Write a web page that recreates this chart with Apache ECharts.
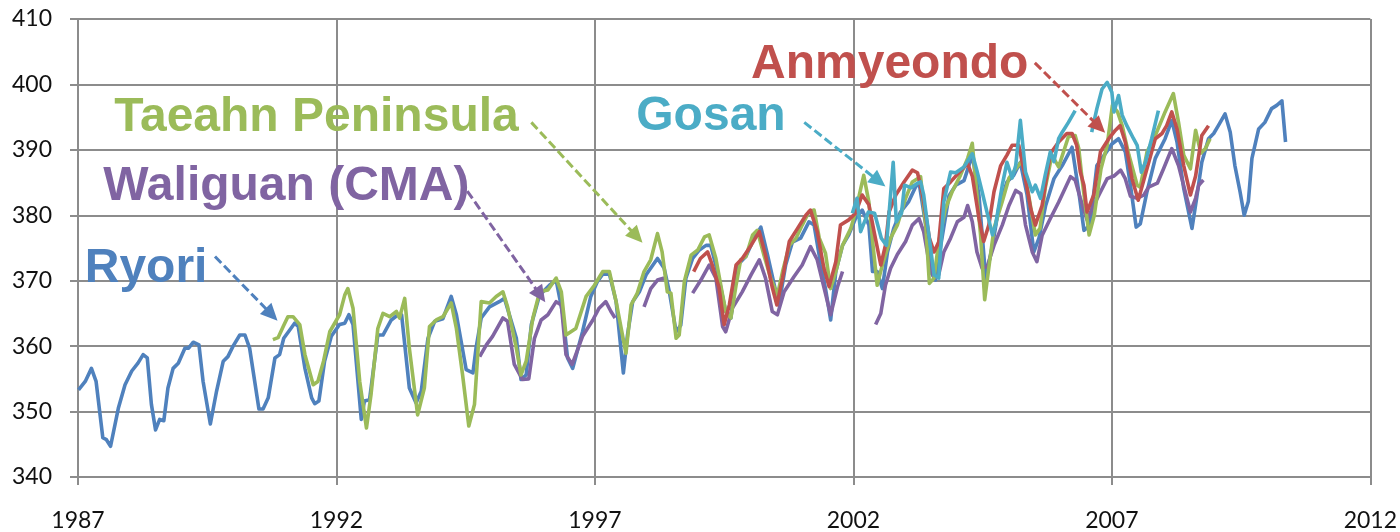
<!DOCTYPE html>
<html>
<head>
<meta charset="utf-8">
<script src="https://cdn.jsdelivr.net/npm/echarts@6/dist/echarts.min.js"></script>
<style>
html,body{margin:0;padding:0;background:#fff;}
#chart{width:1400px;height:532px;}
</style>
</head>
<body>
<div id="chart"></div>
<script>
// ---- data: [year, ppm] ----
const xTicks = [1987, 1992, 1997, 2002, 2007, 2012];
const yTicks = [340, 350, 360, 370, 380, 390, 400, 410];

const ryori = [[1987.01,353.3],[1987.14,354.6],[1987.26,356.6],[1987.35,354.6],[1987.48,346.0],[1987.55,345.7],[1987.63,344.7],[1987.78,350.5],[1987.91,354.1],[1988.04,356.2],[1988.16,357.4],[1988.26,358.7],[1988.34,358.2],[1988.42,351.1],[1988.50,347.2],[1988.58,348.8],[1988.66,348.6],[1988.74,353.6],[1988.84,356.6],[1988.94,357.4],[1989.07,359.7],[1989.14,359.7],[1989.23,360.6],[1989.34,360.2],[1989.42,354.6],[1989.56,348.1],[1989.68,353.1],[1989.81,357.7],[1989.90,358.4],[1990.00,360.0],[1990.13,361.7],[1990.23,361.7],[1990.32,359.7],[1990.50,350.4],[1990.58,350.4],[1990.68,352.1],[1990.81,358.2],[1990.90,358.7],[1990.98,361.2],[1991.10,362.5],[1991.19,363.5],[1991.26,363.0],[1991.39,356.6],[1991.52,352.1],[1991.58,351.2],[1991.66,351.6],[1991.77,357.7],[1991.90,361.5],[1992.06,363.3],[1992.16,363.5],[1992.24,364.8],[1992.32,363.3],[1992.48,348.8],[1992.54,351.6],[1992.64,351.8],[1992.80,361.7],[1992.90,361.7],[1993.06,364.0],[1993.19,364.8],[1993.26,364.8],[1993.41,353.6],[1993.54,351.3],[1993.64,353.1],[1993.77,361.2],[1993.90,363.8],[1994.06,364.2],[1994.22,367.6],[1994.32,364.8],[1994.51,356.4],[1994.64,355.9],[1994.70,359.7],[1994.80,364.3],[1994.96,366.0],[1995.15,366.8],[1995.25,367.3],[1995.48,361.2],[1995.57,354.9],[1995.67,355.6],[1995.77,363.3],[1995.93,367.8],[1996.12,369.3],[1996.25,370.1],[1996.38,364.8],[1996.47,358.2],[1996.57,356.6],[1996.76,362.2],[1996.92,367.6],[1997.05,369.9],[1997.15,371.0],[1997.28,371.0],[1997.41,366.8],[1997.55,355.9],[1997.63,361.7],[1997.73,366.8],[1997.86,368.3],[1997.99,370.9],[1998.21,373.4],[1998.34,371.9],[1998.44,368.3],[1998.57,362.2],[1998.66,363.2],[1998.76,370.4],[1998.89,373.4],[1999.02,374.7],[1999.15,375.4],[1999.24,375.4],[1999.37,371.4],[1999.53,365.3],[1999.63,364.3],[1999.76,372.4],[1999.92,373.7],[2000.05,376.0],[2000.21,378.2],[2000.34,373.9],[2000.50,368.3],[2000.56,366.3],[2000.69,372.4],[2000.82,375.9],[2000.98,376.5],[2001.14,379.0],[2001.24,378.5],[2001.37,372.4],[2001.46,368.8],[2001.56,364.0],[2001.66,371.4],[2001.79,375.4],[2001.91,377.0],[2002.04,379.5],[2002.17,380.8],[2002.30,378.5],[2002.37,371.4],[2002.46,371.4],[2002.56,368.8],[2002.66,374.4],[2002.78,378.0],[2002.91,380.5],[2003.07,382.1],[2003.20,384.3],[2003.27,385.0],[2003.40,378.5],[2003.49,371.4],[2003.59,370.1],[2003.69,375.4],[2003.85,383.0],[2003.98,384.6],[2004.14,385.3],[2004.30,389.2],[2004.43,383.0],[2004.56,370.4],[2004.69,375.4],[2004.81,381.0],[2004.97,385.1],[2005.10,386.1],[2005.23,388.1],[2005.36,383.1],[2005.49,374.4],[2005.59,376.5],[2005.72,381.5],[2005.88,385.6],[2006.04,387.6],[2006.23,390.4],[2006.36,383.6],[2006.46,377.7],[2006.58,378.5],[2006.71,387.6],[2006.88,389.5],[2007.00,390.9],[2007.13,391.7],[2007.26,389.7],[2007.36,384.6],[2007.47,378.2],[2007.55,378.7],[2007.68,383.6],[2007.84,388.7],[2008.03,391.7],[2008.16,394.5],[2008.26,391.2],[2008.39,384.1],[2008.55,378.0],[2008.64,382.6],[2008.74,388.1],[2008.87,391.7],[2008.97,392.5],[2009.06,393.7],[2009.19,395.5],[2009.29,392.7],[2009.38,387.6],[2009.48,383.6],[2009.56,380.0],[2009.64,382.1],[2009.71,388.7],[2009.84,393.2],[2009.96,394.2],[2010.09,396.3],[2010.19,396.8],[2010.29,397.5],[2010.36,391.2]];

const waliguan = [[1994.77,358.4],[1994.90,360.2],[1995.02,361.5],[1995.22,364.3],[1995.31,363.8],[1995.44,357.2],[1995.60,354.9],[1995.72,355.0],[1995.83,361.2],[1995.96,364.0],[1996.09,364.8],[1996.25,366.8],[1996.35,366.3],[1996.44,358.7],[1996.56,357.2],[1996.76,361.5],[1996.96,364.0],[1997.08,365.8],[1997.21,366.8],[1997.31,365.3],[1997.39,364.3],[1997.40,null],[1997.95,366.0],[1998.08,368.8],[1998.21,370.1],[1998.34,370.4],[1998.35,null],[1998.89,368.1],[1999.05,370.1],[1999.21,372.4],[1999.34,370.4],[1999.47,363.0],[1999.53,362.2],[1999.66,365.8],[1999.85,368.3],[2000.02,370.9],[2000.18,373.2],[2000.30,370.4],[2000.43,365.3],[2000.53,364.8],[2000.66,368.3],[2000.85,370.6],[2001.01,372.4],[2001.17,375.2],[2001.30,373.2],[2001.43,369.0],[2001.56,364.8],[2001.69,369.0],[2001.79,371.4],[2001.80,null],[2002.43,363.3],[2002.53,365.0],[2002.62,369.3],[2002.72,371.9],[2002.85,374.0],[2003.01,376.0],[2003.14,378.5],[2003.27,379.5],[2003.36,377.5],[2003.46,373.0],[2003.56,370.4],[2003.65,370.9],[2003.75,374.4],[2003.88,376.5],[2004.01,379.0],[2004.14,379.7],[2004.21,381.5],[2004.30,379.0],[2004.39,374.4],[2004.49,371.9],[2004.59,372.2],[2004.72,375.4],[2004.88,378.5],[2005.01,381.5],[2005.14,383.8],[2005.24,383.3],[2005.33,378.5],[2005.46,374.4],[2005.55,372.9],[2005.65,376.9],[2005.81,379.5],[2005.97,382.0],[2006.20,385.9],[2006.29,385.4],[2006.39,382.6],[2006.52,379.3],[2006.65,381.5],[2006.75,383.1],[2006.91,385.6],[2007.04,386.0],[2007.17,386.9],[2007.26,385.6],[2007.36,382.9],[2007.49,382.6],[2007.62,383.1],[2007.71,384.3],[2007.88,384.9],[2008.00,387.1],[2008.16,390.2],[2008.29,387.6],[2008.42,383.6],[2008.52,380.5],[2008.62,382.6],[2008.68,384.6],[2008.77,385.4]];

const taeahn = [[1990.77,361.0],[1990.87,361.3],[1990.97,363.0],[1991.06,364.5],[1991.16,364.5],[1991.29,363.3],[1991.39,358.7],[1991.55,354.1],[1991.64,354.6],[1991.75,357.7],[1991.87,362.2],[1992.06,364.8],[1992.16,367.8],[1992.22,368.8],[1992.32,365.8],[1992.45,354.6],[1992.58,347.5],[1992.67,352.7],[1992.80,362.7],[1992.90,365.0],[1993.03,364.5],[1993.16,365.3],[1993.22,364.3],[1993.32,367.3],[1993.41,359.7],[1993.57,349.5],[1993.70,353.6],[1993.80,363.0],[1993.93,364.0],[1994.06,364.5],[1994.22,366.6],[1994.32,362.7],[1994.44,355.6],[1994.56,347.8],[1994.67,351.1],[1994.80,366.8],[1994.96,366.6],[1995.09,367.6],[1995.22,368.3],[1995.31,366.0],[1995.48,359.7],[1995.57,355.6],[1995.67,357.7],[1995.80,364.3],[1995.93,368.3],[1996.09,368.6],[1996.25,370.4],[1996.35,368.3],[1996.44,361.7],[1996.63,362.7],[1996.83,367.6],[1996.99,369.3],[1997.15,371.4],[1997.28,371.4],[1997.41,366.8],[1997.60,358.9],[1997.70,366.3],[1997.82,368.1],[1997.95,371.4],[1998.08,373.2],[1998.21,377.2],[1998.30,374.4],[1998.40,368.3],[1998.47,368.1],[1998.57,361.2],[1998.63,361.7],[1998.73,369.9],[1998.86,373.9],[1998.99,374.7],[1999.12,376.7],[1999.21,377.0],[1999.34,373.4],[1999.47,367.8],[1999.53,365.3],[1999.63,364.3],[1999.73,369.3],[1999.82,373.2],[1999.92,373.7],[2000.05,377.0],[2000.14,377.7],[2000.27,373.9],[2000.40,370.4],[2000.53,367.8],[2000.63,371.4],[2000.76,375.4],[2000.89,376.5],[2001.01,378.5],[2001.14,380.5],[2001.24,380.8],[2001.34,376.5],[2001.46,374.2],[2001.56,368.8],[2001.66,371.4],[2001.79,375.4],[2001.95,378.0],[2002.04,380.5],[2002.20,386.1],[2002.30,382.0],[2002.38,375.4],[2002.46,369.3],[2002.56,372.4],[2002.72,376.5],[2002.85,378.5],[2003.01,382.6],[2003.14,385.1],[2003.30,385.9],[2003.40,378.5],[2003.47,369.6],[2003.56,370.4],[2003.65,375.9],[2003.78,381.0],[2003.91,383.6],[2004.07,386.1],[2004.21,388.7],[2004.30,391.0],[2004.39,383.1],[2004.46,377.0],[2004.54,367.1],[2004.62,372.0],[2004.72,378.0],[2004.88,382.1],[2005.01,385.7],[2005.14,387.1],[2005.27,388.4],[2005.39,383.1],[2005.52,377.0],[2005.61,378.0],[2005.71,384.1],[2005.84,389.2],[2005.97,387.4],[2006.16,392.0],[2006.29,392.2],[2006.36,390.2],[2006.43,385.1],[2006.56,377.0],[2006.66,380.0],[2006.79,387.1],[2006.91,390.7],[2007.01,396.8],[2007.11,395.8],[2007.20,393.7],[2007.33,389.2],[2007.49,384.6],[2007.55,384.3],[2007.68,389.7],[2007.84,392.2],[2008.03,395.8],[2008.19,398.6],[2008.29,394.2],[2008.39,389.2],[2008.52,387.1],[2008.62,393.0],[2008.72,389.5],[2008.81,390.2],[2008.90,391.7]];

const anmyeondo = [[1998.91,371.4],[1999.04,373.4],[1999.18,374.4],[1999.27,372.4],[1999.40,369.0],[1999.50,363.3],[1999.60,366.3],[1999.73,372.4],[1999.85,373.4],[2000.02,375.4],[2000.18,377.5],[2000.30,373.9],[2000.43,369.0],[2000.52,366.3],[2000.63,370.4],[2000.76,376.0],[2000.92,378.0],[2001.08,380.0],[2001.17,380.8],[2001.30,377.5],[2001.43,371.9],[2001.53,369.1],[2001.66,372.9],[2001.75,378.5],[2001.91,379.3],[2002.04,380.3],[2002.17,383.1],[2002.30,381.6],[2002.40,377.5],[2002.53,372.4],[2002.62,375.4],[2002.69,380.5],[2002.82,383.1],[2002.98,385.1],[2003.14,386.9],[2003.24,386.5],[2003.34,383.1],[2003.47,376.5],[2003.56,374.4],[2003.65,375.9],[2003.75,384.1],[2003.88,385.1],[2004.04,386.5],[2004.21,387.9],[2004.30,386.0],[2004.43,379.5],[2004.52,376.0],[2004.62,378.5],[2004.72,383.6],[2004.85,387.6],[2004.97,389.2],[2005.07,390.7],[2005.20,390.7],[2005.30,386.8],[2005.43,381.0],[2005.52,378.5],[2005.65,381.5],[2005.81,389.4],[2005.97,391.2],[2006.13,392.5],[2006.23,392.5],[2006.32,390.7],[2006.39,386.6],[2006.46,384.6],[2006.52,380.5],[2006.65,383.1],[2006.78,389.7],[2006.94,391.7],[2007.07,393.0],[2007.16,393.7],[2007.26,391.2],[2007.39,385.6],[2007.51,382.3],[2007.64,386.0],[2007.84,391.7],[2007.97,392.5],[2008.06,393.7],[2008.16,395.8],[2008.26,393.2],[2008.39,387.6],[2008.52,383.1],[2008.62,386.0],[2008.74,392.2],[2008.87,393.7]];

const gosan = [[2001.98,380.3],[2002.07,382.6],[2002.14,377.5],[2002.29,380.5],[2002.41,380.3],[2002.54,376.5],[2002.64,375.4],[2002.77,388.1],[2002.83,379.0],[2002.93,380.3],[2002.99,384.6],[2003.12,384.2],[2003.22,384.8],[2003.30,385.1],[2003.36,383.1],[2003.46,377.0],[2003.56,370.9],[2003.65,370.4],[2003.75,382.1],[2003.88,386.6],[2003.98,386.5],[2004.14,387.4],[2004.30,389.4],[2004.39,386.8],[2004.49,383.6],[2004.59,380.3],[2004.69,377.0],[2004.75,378.5],[2004.88,384.6],[2004.97,388.1],[2005.07,385.7],[2005.14,387.6],[2005.23,394.5],[2005.33,386.6],[2005.46,383.6],[2005.52,384.6],[2005.62,382.6],[2005.71,386.1],[2005.81,389.7],[2005.88,388.2],[2005.97,391.7],[2006.04,392.7],[2006.16,394.2],[2006.29,396.0],[2006.30,null],[2006.61,392.7],[2006.71,396.3],[2006.81,399.3],[2006.91,400.3],[2007.00,398.8],[2007.04,395.8],[2007.13,398.3],[2007.20,395.3],[2007.29,393.7],[2007.42,391.7],[2007.49,390.7],[2007.57,386.6],[2007.65,388.1],[2007.77,391.7],[2007.90,396.0]];

// annotation labels and arrows (arrow ends in [year, ppm])
const labels = ['Ryori', 'Waliguan (CMA)', 'Taeahn Peninsula', 'Gosan', 'Anmyeondo'];
const arrows = {
  'Ryori': [[1989.65,373.7],[1990.86,363.9]],
  'Waliguan (CMA)': [[1994.53,383.7],[1996.04,366.7]],
  'Taeahn Peninsula': [[1995.77,394.2],[1997.92,375.8]],
  'Gosan': [[2001.05,394.2],[2002.62,384.4]],
  'Anmyeondo': [[2005.51,403.3],[2006.87,392.6]]
};
const labelAnchor = {
  'Ryori': [1987.13, 371.8],
  'Waliguan (CMA)': [1987.49, 384.4],
  'Taeahn Peninsula': [1987.70, 394.9],
  'Gosan': [1997.80, 395.0],
  'Anmyeondo': [2000.02, 403.0]
};

// ---- build ----
const X0 = xTicks[0];
const shift = d => d.map(p => [+(p[0] - X0).toFixed(3), p[1] == null ? '-' : p[1]]);
const colors = {
  'Ryori': '#4F81BD', 'Waliguan (CMA)': '#8064A2', 'Taeahn Peninsula': '#9BBB59',
  'Anmyeondo': '#C0504D', 'Gosan': '#4BACC6'
};
const seriesData = [
  ['Ryori', ryori], ['Waliguan (CMA)', waliguan], ['Taeahn Peninsula', taeahn],
  ['Anmyeondo', anmyeondo], ['Gosan', gosan]
];
const gridLine = '#8C8C8C';

const chart = echarts.init(document.getElementById('chart'), null, {renderer: 'canvas'});
chart.setOption({
  animation: false,
  backgroundColor: '#fff',
  grid: {left: 78, right: 28, top: 19, bottom: 53},
  xAxis: {
    type: 'value', min: 0, max: xTicks[xTicks.length - 1] - X0, interval: 5,
    axisLine: {show: true, lineStyle: {color: gridLine, width: 2}},
    axisTick: {show: true, length: 8, lineStyle: {color: gridLine, width: 2}},
    splitLine: {show: true, lineStyle: {color: gridLine, width: 2}},
    axisLabel: {margin: 32, fontFamily: 'Lato', fontSize: 23, color: '#111',
      formatter: v => String(v + X0)}
  },
  yAxis: {
    type: 'value', min: yTicks[0], max: yTicks[yTicks.length - 1], interval: 10,
    axisLine: {show: true, lineStyle: {color: gridLine, width: 2}},
    axisTick: {show: true, length: 8, lineStyle: {color: gridLine, width: 2}},
    splitLine: {show: true, lineStyle: {color: gridLine, width: 2}},
    axisLabel: {margin: 26, fontFamily: 'Lato', fontSize: 23, color: '#111'}
  },
  series: seriesData.map(([name, d]) => ({
    name, type: 'line', data: shift(d), showSymbol: false, symbol: 'none',
    connectNulls: false,
    lineStyle: {color: colors[name], width: 3.6, join: 'round'},
    itemStyle: {color: colors[name]},
    emphasis: {disabled: true}
  }))
});

// annotations: dashed arrows + labels, positioned through the chart's own scales
const toPx = a => chart.convertToPixel({gridIndex: 0}, [a[0] - X0, a[1]]);
const HEAD_LEN = 17, HEAD_HALF = 8;
const graphics = [];
labels.forEach(name => {
  const c = colors[name];
  const p0 = toPx(arrows[name][0]);
  const p1 = toPx(arrows[name][1]);
  const dx = p1[0] - p0[0], dy = p1[1] - p0[1];
  const L = Math.hypot(dx, dy), ux = dx / L, uy = dy / L;
  const bx = p1[0] - ux * HEAD_LEN, by = p1[1] - uy * HEAD_LEN;
  graphics.push({
    type: 'line', silent: true, z: 90,
    shape: {x1: p0[0], y1: p0[1], x2: bx + ux * 2, y2: by + uy * 2},
    style: {stroke: c, lineWidth: 3, lineDash: [9, 4]}
  });
  graphics.push({
    type: 'polygon', silent: true, z: 91,
    shape: {points: [[p1[0], p1[1]], [bx - uy * HEAD_HALF, by + ux * HEAD_HALF], [bx + uy * HEAD_HALF, by - ux * HEAD_HALF]]},
    style: {fill: c}
  });
  const a = toPx(labelAnchor[name]);
  graphics.push({
    type: 'text', x: a[0], y: a[1], silent: true, z: 100,
    style: {text: name, fill: c, font: 'bold 48px "Liberation Sans", Arial, sans-serif',
      textAlign: 'left', textVerticalAlign: 'middle'}
  });
});
chart.setOption({graphic: graphics});
</script>
</body>
</html>
